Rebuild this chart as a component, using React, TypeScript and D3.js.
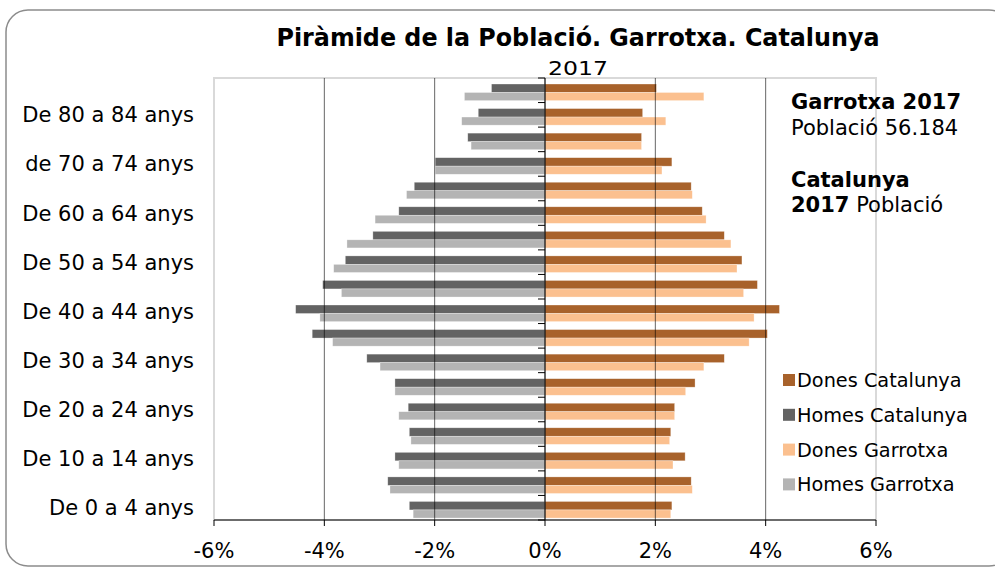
import React from "react";
import * as d3 from "d3";

// age groups, bottom to top
const ageGroups = [
  "De 0 a 4 anys", "De 5 a 9 anys", "De 10 a 14 anys", "De 15 a 19 anys",
  "De 20 a 24 anys", "De 25 a 29 anys", "De 30 a 34 anys", "De 35 a 39 anys",
  "De 40 a 44 anys", "De 45 a 49 anys", "De 50 a 54 anys", "De 55 a 59 anys",
  "De 60 a 64 anys", "De 65 a 69 anys", "de 70 a 74 anys", "De 75 a 79 anys",
  "De 80 a 84 anys", "De 85 anys i més",
];

// % of population
const homesCatalunya = [2.46, 2.85, 2.72, 2.46, 2.48, 2.72, 3.23, 4.22, 4.52, 4.03, 3.62, 3.12, 2.65, 2.37, 1.99, 1.4, 1.21, 0.97];
const homesGarrotxa = [2.39, 2.81, 2.65, 2.43, 2.65, 2.72, 2.99, 3.85, 4.08, 3.69, 3.83, 3.59, 3.08, 2.51, 1.99, 1.34, 1.51, 1.46];
const donesCatalunya = [2.3, 2.65, 2.54, 2.28, 2.35, 2.72, 3.25, 4.03, 4.25, 3.85, 3.57, 3.25, 2.85, 2.65, 2.3, 1.75, 1.77, 2.02];
const donesGarrotxa = [2.28, 2.67, 2.32, 2.26, 2.35, 2.55, 2.88, 3.7, 3.79, 3.6, 3.48, 3.37, 2.92, 2.67, 2.12, 1.75, 2.19, 2.88];

const xTicks = [-6, -4, -2, 0, 2, 4, 6];

const legendItems = [
  { label: "Dones Catalunya", color: "#a8622b" },
  { label: "Homes Catalunya", color: "#636363" },
  { label: "Dones Garrotxa", color: "#fbc08f" },
  { label: "Homes Garrotxa", color: "#b4b4b4" },
];

const W = 995;
const H = 570;
const font = "'DejaVu Sans', Verdana, sans-serif";

export default function App() {
  const left = 214;
  const right = 876;
  const top = 78;
  const bottom = 520;

  const x = d3.scaleLinear().domain([-6, 6]).range([left, right]);
  const y = d3.scaleBand<string>().domain(ageGroups).range([bottom, top]);
  const bw = y.bandwidth();

  const darkY = (g: string) => (y(g) as number) + bw * 0.245;
  const lightY = (g: string) => (y(g) as number) + bw * 0.59;
  const darkH = bw * 0.345;
  const lightH = bw * 0.33;

  const bars = (vals: number[], sign: number, yf: (g: string) => number, h: number, color: string) =>
    ageGroups.map((g, i) => {
      const v = vals[i] * sign;
      const x0 = x(Math.min(0, v));
      const x1 = x(Math.max(0, v));
      return (
        <rect key={g} x={x0} y={yf(g)} width={x1 - x0} height={h} fill={color}
          stroke="#fff" strokeOpacity={0.5} strokeWidth={0.6} />
      );
    });

  const boundaries = d3.range(ageGroups.length + 1).map((i) => bottom - i * bw);

  return (
    <svg width={W} height={H} style={{ position: "absolute", left: 0, top: 0, display: "block" }}>
      <rect x={0} y={0} width={W} height={H} fill="#fff" />
      <rect x={6} y={10} width={W + 10} height={556} rx={22} fill="#fff" stroke="#8c8c8c" strokeWidth={1.5} />

      {/* plot area frame */}
      <rect x={left} y={top} width={right - left} height={bottom - top} fill="none" stroke="#d9d9d9" strokeWidth={2} />

      {bars(homesCatalunya, -1, darkY, darkH, legendItems[1].color)}
      {bars(homesGarrotxa, -1, lightY, lightH, legendItems[3].color)}
      {bars(donesCatalunya, 1, darkY, darkH, legendItems[0].color)}
      {bars(donesGarrotxa, 1, lightY, lightH, legendItems[2].color)}

      {/* gridlines */}
      {xTicks.filter((t) => t !== 0 && Math.abs(t) !== 6).map((t) => (
        <line key={t} x1={x(t)} x2={x(t)} y1={top} y2={bottom} stroke="#000" strokeOpacity={0.6} strokeWidth={1} />
      ))}

      {/* zero axis with category ticks */}
      <line x1={x(0)} x2={x(0)} y1={top} y2={bottom} stroke="#000" strokeWidth={1.2} />
      {boundaries.map((b, i) => (
        <line key={i} x1={x(0) - 7} x2={x(0)} y1={b} y2={b} stroke="#000" strokeWidth={1} />
      ))}

      {/* x axis */}
      <line x1={left} x2={right} y1={bottom} y2={bottom} stroke="#000" strokeWidth={1.2} />
      {xTicks.map((t) => (
        <g key={t}>
          <line x1={x(t)} x2={x(t)} y1={bottom} y2={bottom + 6} stroke="#000" strokeWidth={1} />
          <text x={x(t)} y={558} textAnchor="middle" fontFamily={font} fontSize={21} fill="#000">
            {t + "%"}
          </text>
        </g>
      ))}

      {/* category labels */}
      {ageGroups.map((g, i) =>
        i % 2 === 0 ? (
          <text key={g} x={194} y={(y(g) as number) + bw / 2 + 7.5} textAnchor="end"
            fontFamily={font} fontSize={21} fill="#000">
            {g}
          </text>
        ) : null
      )}

      {/* titles */}
      <text x={578} y={46} textAnchor="middle" fontFamily={font} fontWeight="bold" fontSize={24}
        textLength={603} lengthAdjust="spacingAndGlyphs" fill="#000">
        Piràmide de la Població. Garrotxa. Catalunya
      </text>
      <text x={578} y={75} textAnchor="middle" fontFamily={font} fontSize={20}
        textLength={60} lengthAdjust="spacingAndGlyphs" fill="#000">
        2017
      </text>

      {/* annotations */}
      <text x={791} y={109} fontFamily={font} fontSize={21} fontWeight="bold" fill="#000">Garrotxa 2017</text>
      <text x={791} y={135} fontFamily={font} fontSize={21} fill="#000">Població 56.184</text>
      <text x={791} y={187} fontFamily={font} fontSize={21} fontWeight="bold" fill="#000">Catalunya</text>
      <text x={791} y={212} fontFamily={font} fontSize={21} fill="#000">
        <tspan fontWeight="bold">2017</tspan> Població
      </text>

      {/* legend */}
      {legendItems.map((d, i) => (
        <g key={d.label} transform={`translate(783, ${380 + i * 34.8})`}>
          <rect x={0} y={-6} width={12} height={12} fill={d.color} />
          <text x={14} y={7} fontFamily={font} fontSize={19.3} fill="#000">{d.label}</text>
        </g>
      ))}
    </svg>
  );
}
